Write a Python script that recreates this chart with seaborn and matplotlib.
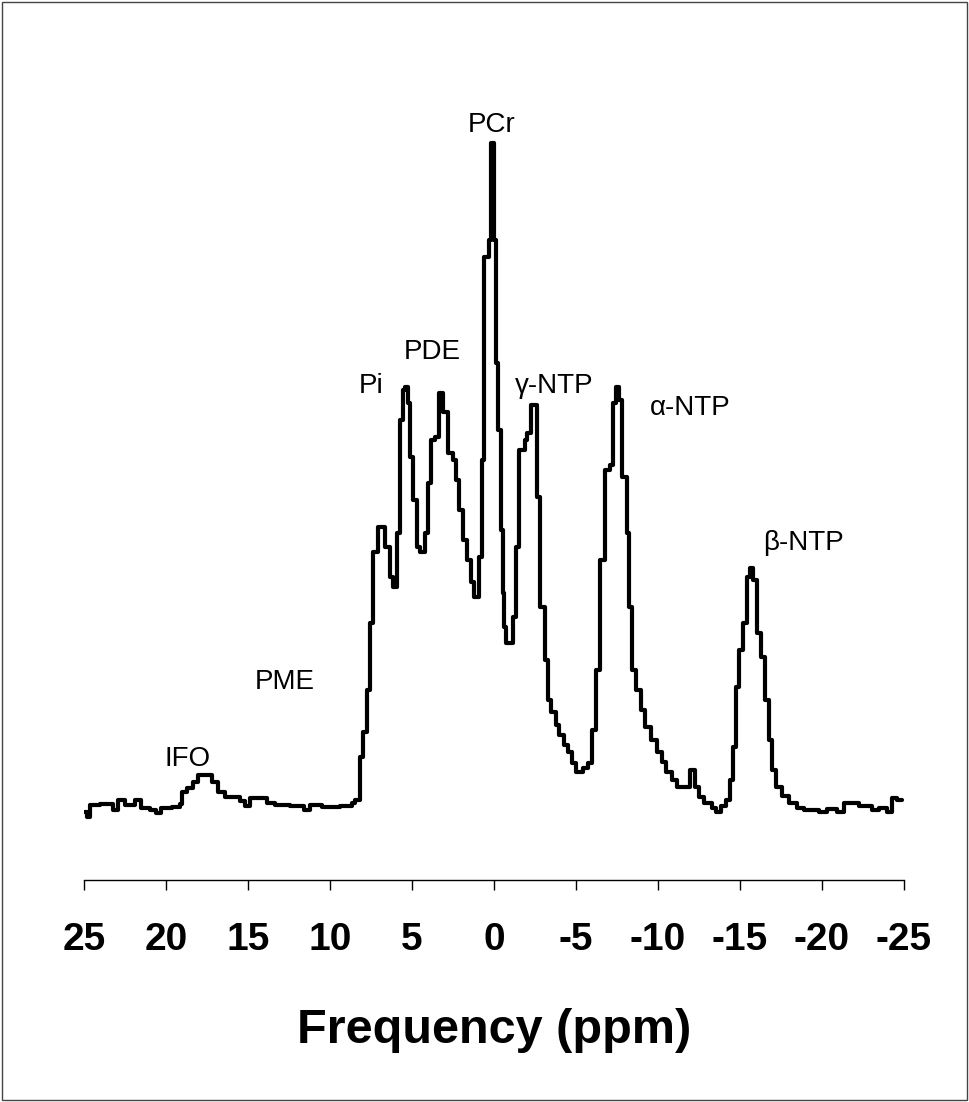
import matplotlib
matplotlib.use("Agg")
import matplotlib.pyplot as plt
import seaborn as sns
import pandas as pd
from matplotlib.patches import Rectangle

# ---- data: chemical shift (ppm) breakpoints and signal level (a.u., PCr = 100) ----
PPM = [25.00, 24.82, 24.63, 24.02, 23.23, 22.93, 22.50, 21.89, 21.53, 20.98,
       20.61, 20.31, 19.64, 19.15, 19.03, 18.73, 18.36, 18.06, 17.20, 16.84,
       16.41, 15.50, 15.19, 14.89, 13.86, 13.37, 12.45, 11.60, 11.24, 10.51,
       9.41, 8.68, 8.50, 8.19, 8.01, 7.76, 7.58, 7.40, 7.10, 6.67,
       6.36, 6.18, 5.94, 5.76, 5.57, 5.45, 5.27, 5.15, 4.96, 4.72,
       4.54, 4.23, 4.05, 3.87, 3.62, 3.38, 3.08, 2.83, 2.53, 2.34,
       2.16, 1.92, 1.67, 1.43, 1.25, 0.94, 0.76, 0.58, 0.33, 0.21,
       -0.03, -0.15, -0.27, -0.40, -0.52, -0.64, -0.76, -1.13, -1.37, -1.55,
       -1.86, -2.04, -2.28, -2.65, -2.83, -3.08, -3.32, -3.50, -3.75, -3.99,
       -4.29, -4.54, -4.78, -5.02, -5.45, -5.75, -6.00, -6.24, -6.49, -6.79,
       -7.09, -7.28, -7.46, -7.64, -7.82, -8.13, -8.25, -8.43, -8.68, -8.98,
       -9.23, -9.59, -9.96, -10.26, -10.51, -10.87, -11.18, -11.97, -12.27, -12.52,
       -12.82, -13.31, -13.55, -13.86, -14.16, -14.40, -14.59, -14.77, -14.95, -15.20,
       -15.44, -15.62, -15.80, -16.05, -16.29, -16.53, -16.78, -16.96, -17.20, -17.57,
       -18.00, -18.48, -18.91, -19.82, -20.31, -20.92, -21.35, -22.26, -23.05, -23.48,
       -23.97, -24.27, -24.57, -24.88]

SIGNAL = [-0.3, -1.0, 0.75, 0.9, 0.0, 1.5, 0.75, 1.5, 0.3, 0.0,
          -0.45, 0.3, 0.45, 0.9, 2.7, 3.3, 4.2, 5.2, 4.2, 2.7,
          1.9, 1.35, 0.6, 1.8, 1.05, 0.75, 0.6, 0.0, 0.75, 0.45,
          0.6, 1.05, 1.5, 7.9, 11.7, 18.0, 28.0, 38.7, 42.4, 39.4,
          34.9, 33.4, 41.5, 58.5, 63.0, 63.4, 61.0, 52.9, 46.5, 39.4,
          38.7, 41.5, 49.0, 55.5, 55.9, 62.5, 59.7, 53.5, 52.5, 49.5,
          45.0, 40.5, 37.5, 34.2, 31.9, 37.9, 52.5, 82.9, 85.5, 100.0,
          85.5, 67.0, 57.0, 42.0, 32.5, 27.4, 25.0, 28.9, 39.4, 54.0,
          55.5, 56.5, 60.7, 46.9, 30.4, 22.5, 16.5, 14.7, 12.7, 11.2,
          9.7, 8.7, 7.0, 5.7, 6.3, 7.0, 12.0, 21.0, 37.5, 51.0,
          51.7, 61.0, 63.4, 61.5, 49.9, 41.5, 30.4, 21.0, 18.0, 15.0,
          12.4, 10.5, 8.7, 7.2, 5.7, 4.5, 3.4, 6.0, 3.4, 1.9,
          1.05, 0.3, -0.3, 0.6, 1.5, 4.5, 9.4, 18.4, 24.0, 28.0,
          34.9, 36.3, 34.5, 26.5, 22.9, 16.5, 10.5, 6.0, 3.4, 2.1,
          1.05, 0.3, 0.0, -0.3, 0.15, -0.3, 1.05, 0.6, 0.0, 0.3,
          -0.3, 1.8, 1.5, 1.5]

# peak labels and their anchor positions (ppm, a.u.)
PEAK_LABELS = ["IFO", "PME", "Pi", "PDE", "PCr", "\u03b3-NTP", "\u03b1-NTP", "\u03b2-NTP"]
LABEL_PPM = [18.67, 12.76, 7.50, 3.75, 0.15, -3.68, -11.97, -18.85]
LABEL_SIG = [7.6, 19.2, 63.6, 68.7, 102.7, 63.6, 60.3, 40.0]

TICKS = [25, 20, 15, 10, 5, 0, -5, -10, -15, -20, -25]
TICK_LABELS = ["25", "20", "15", "10", "5", "0", "-5", "-10", "-15", "-20", "-25"]
X_LABEL = "Frequency (ppm)"

df = pd.DataFrame({"ppm": PPM, "signal": SIGNAL})

sns.set_style("white")
plt.rcParams["font.family"] = ["Liberation Sans", "DejaVu Sans"]
plt.rcParams["text.color"] = "black"
plt.rcParams["axes.labelcolor"] = "black"
plt.rcParams["xtick.color"] = "black"

fig = plt.figure(figsize=(9.69, 11.02), dpi=100)
ax = fig.add_axes([84 / 969, (1102 - 880) / 1102, 820 / 969, 780 / 1102])

sns.lineplot(data=df, x="ppm", y="signal", ax=ax, sort=False, estimator=None,
             drawstyle="steps-post", color="black", linewidth=3.0)

ax.set_xlim(25, -25)
ax.set_ylim(-10.5, 106.5)

for s in ["top", "right", "left"]:
    ax.spines[s].set_visible(False)
ax.spines["bottom"].set_linewidth(1.0)
ax.spines["bottom"].set_color("black")
ax.set_yticks([])
ax.set_ylabel("")

ax.set_xticks(TICKS)
ax.set_xticklabels(TICK_LABELS, fontweight="bold", fontsize=28, color="black")
ax.tick_params(axis="x", bottom=True, direction="out", length=7.5, width=1.0,
               color="black", labelcolor="black", pad=23)
ax.set_xlabel(X_LABEL, fontsize=35, fontweight="bold", labelpad=36, color="black")

for lab, px, sy in zip(PEAK_LABELS, LABEL_PPM, LABEL_SIG):
    ax.text(px, sy, lab, ha="center", va="center", fontsize=20,
            family=["Liberation Sans", "DejaVu Sans"], color="black")

fig.patches.append(Rectangle((0.002, 0.002), 0.996, 0.996, transform=fig.transFigure,
                             fill=False, edgecolor="#444444", linewidth=1.0))

fig.savefig("out.png", dpi=100)
